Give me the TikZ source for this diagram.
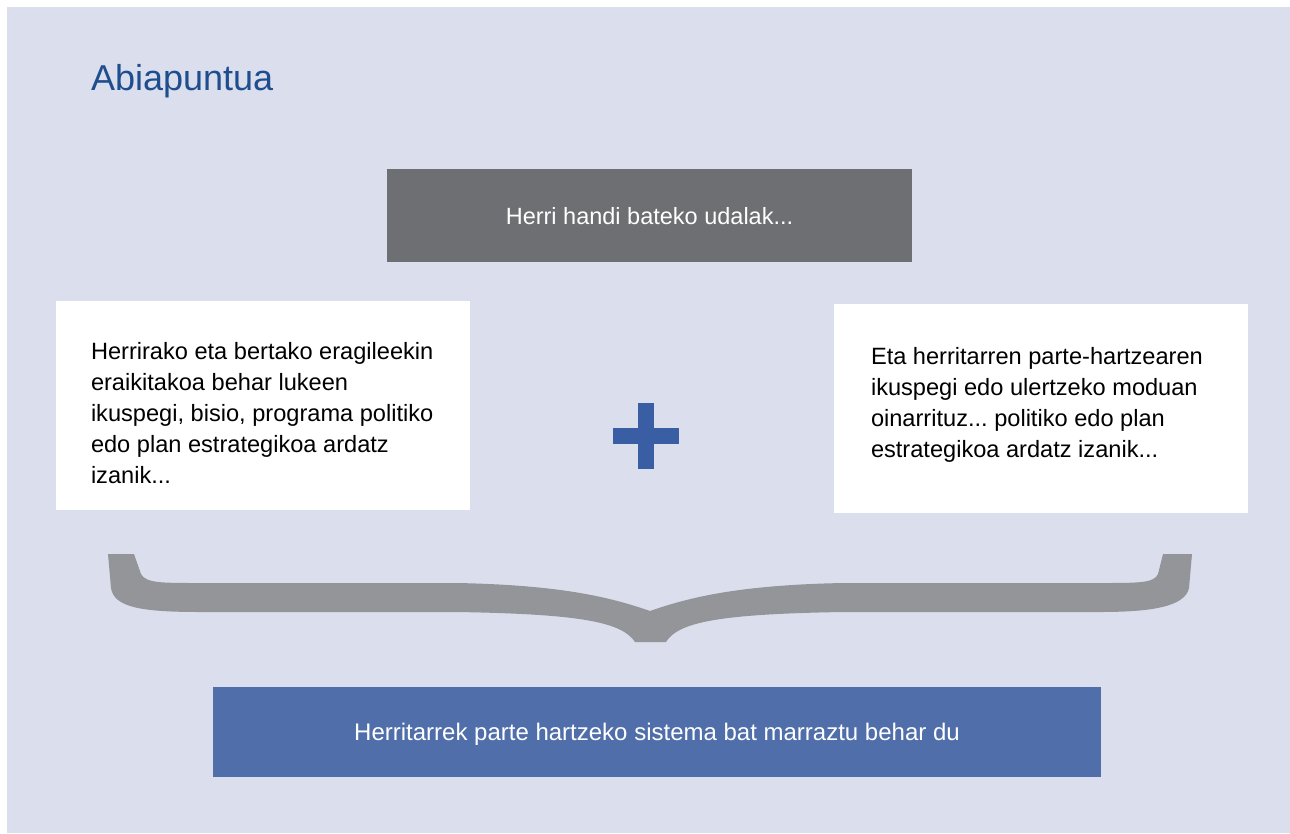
\documentclass[tikz,border=0pt]{standalone}
\usepackage{fontspec}
\setmainfont{Liberation Sans}
\usetikzlibrary{positioning}
\frenchspacing

\definecolor{pageBg}{HTML}{DBDEEC}
\definecolor{titleBlue}{HTML}{1F4E8F}
\definecolor{councilGray}{HTML}{6E6F73}
\definecolor{braceGray}{HTML}{949598}
\definecolor{plusBlue}{HTML}{3A5EA3}
\definecolor{systemBlue}{HTML}{4F6EAA}

\begin{document}
\begin{tikzpicture}[
  x=1pt, y=-1pt,
  every node/.style={inner sep=0pt, outer sep=0pt},
  darkbox/.style={rectangle, fill=councilGray, text=white, minimum width=525pt, minimum height=93pt, text depth=0pt, align=center, font=\fontsize{23.5}{28}\selectfont},
  panel/.style={rectangle, fill=white, minimum width=414pt, minimum height=209pt},
  paneltext/.style={anchor=north west, text=black, align=left, font=\fontsize{23.6}{31}\selectfont},
  resultbox/.style={rectangle, fill=systemBlue, text=white, minimum width=888pt, minimum height=90pt, text depth=0pt, align=center, font=\fontsize{24}{28}\selectfont}
]
\useasboundingbox (0,0) rectangle (1290,833);
\fill[pageBg] (7,7) rectangle (1290,833);

% Title
\node[anchor=base west, text=titleBlue, font=\fontsize{36}{40}\selectfont] (title) at (91,90) {Abiapuntua};

% Top box
\node[darkbox, anchor=north west] (council) at (387,169) {Herri handi bateko udalak...};

% Two columns
\node[panel, anchor=north west] (vision) at (56,301) {};
\node[paneltext] (visionText) at ([xshift=35pt, yshift=-41pt]vision.north west) {Herrirako eta bertako eragileekin\\eraikitakoa behar lukeen\\ikuspegi, bisio, programa politiko\\edo plan estrategikoa ardatz\\izanik...};
\node[panel, anchor=north west] (participation) at (834,304) {};
\node[paneltext] (participationText) at ([xshift=37pt, yshift=-43pt]participation.north west) {Eta herritarren parte-hartzearen\\ikuspegi edo ulertzeko moduan\\oinarrituz... politiko edo plan\\estrategikoa ardatz izanik...};

% Plus sign
\coordinate (plus) at (646,436);
\fill[plusBlue] ([xshift=-8pt, yshift=33pt]plus) rectangle ([xshift=8pt, yshift=-33pt]plus);
\fill[plusBlue] ([xshift=-33pt, yshift=8pt]plus) rectangle ([xshift=33pt, yshift=-8pt]plus);

% Brace
\fill[braceGray] (108,554) -- (134,554) -- (141,574)
  .. controls (146,583) and (160,583) .. (200,583) -- (457,583)
  .. controls (560,585) and (610,597) .. (650,611)
  .. controls (690,597) and (740,585) .. (843,583) -- (1100,583)
  .. controls (1140,583) and (1154,583) .. (1158,574) -- (1163,554) -- (1192,554) -- (1189,588)
  .. controls (1185,607) and (1150,612) .. (1100,612) -- (843,612)
  .. controls (720,614) and (678,622) .. (666,642) -- (635,642)
  .. controls (622,622) and (580,614) .. (457,612) -- (200,612)
  .. controls (140,612) and (114,607) .. (111,588) -- cycle;

% Result
\node[resultbox, anchor=north west] (system) at (213,687) {Herritarrek parte hartzeko sistema bat marraztu behar du};

\end{tikzpicture}
\end{document}
